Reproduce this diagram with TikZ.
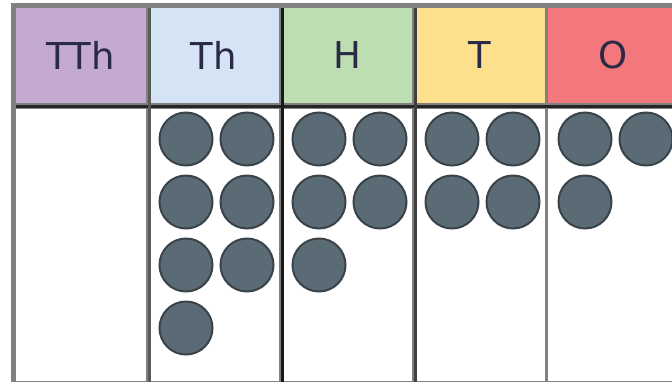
\documentclass[tikz,border=0pt]{standalone}
\usepackage{fontspec}
\setsansfont{DejaVu Sans}
\usetikzlibrary{positioning}
\definecolor{tthcol}{HTML}{C5AAD0}
\definecolor{thcol}{HTML}{D4E4F4}
\definecolor{hcol}{HTML}{BCDEB1}
\definecolor{tcol}{HTML}{FDE08D}
\definecolor{ocol}{HTML}{F2787C}
\definecolor{counter}{HTML}{5B6B75}
\definecolor{counteredge}{HTML}{3A4349}
\definecolor{gridline}{HTML}{808080}
\definecolor{labeltext}{HTML}{2A2A48}

\begin{document}
\begin{tikzpicture}[x=1pt,y=-1pt,
  head/.style={rectangle,draw=gridline,line width=3pt,minimum width=133pt,
               minimum height=98pt,inner sep=0pt,anchor=north west,
               font=\sffamily\fontsize{37}{40}\selectfont,text=labeltext},
  body/.style={rectangle,draw=gridline,line width=3pt,minimum width=133pt,
               minimum height=275pt,inner sep=0pt,fill=white},
  disc/.style={circle,fill=counter,draw=counteredge,line width=2pt,
               minimum size=53pt,inner sep=0pt}
]
\clip (0,0) rectangle (672,381);
\useasboundingbox (0,0) rectangle (672,381);

% place value columns
\foreach \name/\lbl/\col [count=\i from 0] in
    {tth/TTh/tthcol, th/Th/thcol, h/H/hcol, t/T/tcol, o/O/ocol} {
  \node[head,fill=\col] (\name-head) at (13+133*\i,5) {\lbl};
  \node[body,below=0pt of \name-head] (\name-body) {};
}

% separators and outer frame
\draw[line width=3pt,black!85] (tth-head.south west) -- (o-head.south east);
\draw[line width=3pt,black!65] (tth-head.north east) -- (tth-body.south east);
\draw[line width=3pt,black!90] (th-head.north east) -- (th-body.south east);
\draw[line width=3pt,black!75] (h-head.north east) -- (h-body.south east);
\draw[line width=5pt,gridline] (o-head.north east) -| (tth-head.north west)
  -- (tth-body.south west) -- (o-body.south east);

% counters: 7 thousands, 5 hundreds, 4 tens, 3 ones
\foreach \name/\left/\n in {th/146/7, h/279/5, t/412/4, o/545/3} {
  \foreach \k in {1,...,\n} {
    \pgfmathtruncatemacro{\row}{(\k-1)/2}
    \pgfmathtruncatemacro{\pos}{mod(\k-1,2)}
    \node[disc] (\name-\k) at (\left+40+61*\pos,139+63*\row) {};
  }
}
\end{tikzpicture}
\end{document}
